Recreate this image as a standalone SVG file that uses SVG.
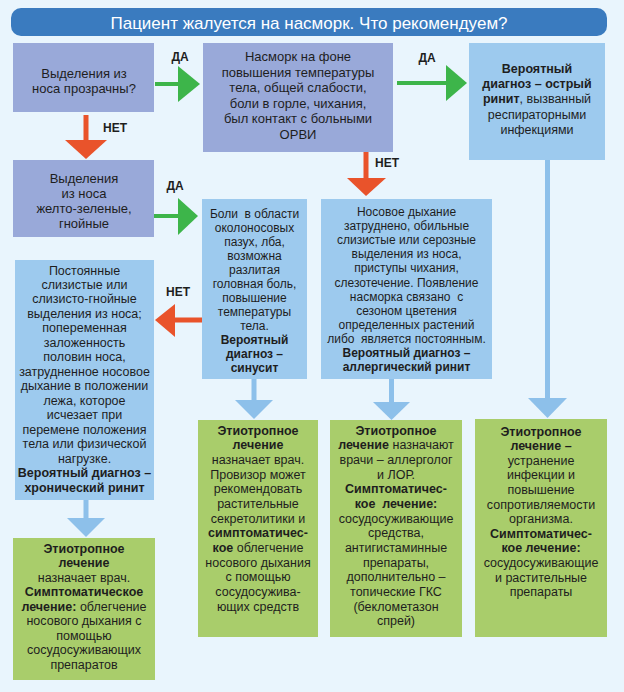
<svg xmlns="http://www.w3.org/2000/svg" width="624" height="692" viewBox="0 0 624 692">
<style>
text{font-family:"Liberation Sans",Arial,sans-serif;fill:#1e1e1e;text-anchor:middle;white-space:pre}
.t13{font-size:13px}.t125{font-size:12.5px}.t12{font-size:12px}
.b{font-weight:bold}
.lbl{font-size:12px;font-weight:bold}
.title{font-size:17px;fill:#ffffff}
.q{fill:#99a9d9}.d{fill:#9dcaee}.g{fill:#a9cd6b}
.ga{fill:#3db54a}.ra{fill:#e9532b}.ba{fill:#8dc0ea}
</style>
<rect x="0" y="0" width="624" height="692" fill="#e9f5fd"/>
<g id="title">
<rect x="11" y="8" width="596" height="28" rx="10" fill="#3a7bbf"/>
<text class="title" x="309" y="29">Пациент жалуется на насморк. Что рекомендуем?</text>
</g>
<g id="connectors">
<rect class="ga" x="155" y="82" width="24" height="4"/><polygon class="ga" points="178,66 200,84 178,102"/>
<rect class="ga" x="397" y="81" width="50" height="4"/><polygon class="ga" points="446,65 467,83 446,101"/>
<rect class="ga" x="154" y="214" width="25" height="4"/><polygon class="ga" points="178,198 198,216 178,235"/>
<rect class="ra" x="83.5" y="115" width="5" height="26"/><polygon class="ra" points="65,140 107,140 86,159"/>
<rect class="ra" x="363.5" y="152" width="5" height="27"/><polygon class="ra" points="347,178 386,178 366,196"/>
<rect class="ra" x="174" y="317.5" width="28" height="5"/><polygon class="ra" points="175,304 155,320 175,337"/>
<rect class="ba" x="251.5" y="379" width="5" height="22"/><polygon class="ba" points="235,400 273,400 254,419"/>
<rect class="ba" x="389" y="379" width="5" height="24"/><polygon class="ba" points="373,402 410,402 391.5,420"/>
<rect class="ba" x="545" y="160" width="5" height="239"/><polygon class="ba" points="528,398 567,398 547.5,418"/>
<rect class="ba" x="83.5" y="500" width="5" height="19"/><polygon class="ba" points="67,518 105,518 86,537"/>
<text class="lbl" x="180" y="60.5">ДА</text>
<text class="lbl" x="427" y="61.5">ДА</text>
<text class="lbl" x="175" y="189.5">ДА</text>
<text class="lbl" x="115" y="131.5">НЕТ</text>
<text class="lbl" x="387" y="166.5">НЕТ</text>
<text class="lbl" x="178" y="295.5">НЕТ</text>
</g>
<g id="q1">
<rect class="q" x="13" y="43" width="141" height="69"/>
<text class="t13" x="84"><tspan x="84" y="77.5">Выделения из</tspan><tspan x="84" y="92.5">носа прозрачны?</tspan></text>
</g>
<g id="q2">
<rect class="q" x="203" y="43" width="190" height="109"/>
<text class="t13"><tspan x="298" y="61">Насморк на фоне</tspan><tspan x="298" y="77">повышения температуры</tspan><tspan x="298" y="92">тела, общей слабости,</tspan><tspan x="298" y="108">боли в горле, чихания,</tspan><tspan x="298" y="123">был контакт с больными</tspan><tspan x="298" y="139">ОРВИ</tspan></text>
</g>
<g id="d-acute">
<rect class="d" x="469" y="43" width="136" height="117"/>
<text class="t125"><tspan x="537" y="72.5" class="b">Вероятный</tspan><tspan x="537" y="87.5" class="b">диагноз – острый</tspan><tspan x="537" y="103"><tspan class="b">ринит</tspan>, вызванный</tspan><tspan x="537" y="118.5">респираторными</tspan><tspan x="537" y="134">инфекциями</tspan></text>
</g>
<g id="q3">
<rect class="q" x="13" y="160" width="141" height="77"/>
<text class="t13"><tspan x="84" y="182.5">Выделения</tspan><tspan x="84" y="197.5">из носа</tspan><tspan x="84" y="212.5">желто-зеленые,</tspan><tspan x="84" y="227.5">гнойные</tspan></text>
</g>
<g id="d-sinus">
<rect class="d" x="202" y="199" width="105" height="180"/>
<text class="t12"><tspan x="254.5" y="218">Боли  в области</tspan><tspan x="254.5" y="232">околоносовых</tspan><tspan x="254.5" y="246">пазух, лба,</tspan><tspan x="254.5" y="260">возможна</tspan><tspan x="254.5" y="274">разлитая</tspan><tspan x="254.5" y="288">головная боль,</tspan><tspan x="254.5" y="302">повышение</tspan><tspan x="254.5" y="316">температуры</tspan><tspan x="254.5" y="330">тела.</tspan><tspan x="254.5" y="344" class="b">Вероятный</tspan><tspan x="254.5" y="358" class="b">диагноз –</tspan><tspan x="254.5" y="372" class="b">синусит</tspan></text>
</g>
<g id="d-allergic">
<rect class="d" x="321" y="199" width="171" height="180"/>
<text class="t12"><tspan x="406.5" y="216">Носовое дыхание</tspan><tspan x="406.5" y="230">затруднено, обильные</tspan><tspan x="406.5" y="244">слизистые или серозные</tspan><tspan x="406.5" y="258">выделения из носа,</tspan><tspan x="406.5" y="272">приступы чихания,</tspan><tspan x="406.5" y="287">слезотечение. Появление</tspan><tspan x="406.5" y="301">насморка связано  с</tspan><tspan x="406.5" y="315">сезоном цветения</tspan><tspan x="406.5" y="329">определенных растений</tspan><tspan x="406.5" y="343">либо  является постоянным.</tspan><tspan x="406.5" y="357" class="b">Вероятный диагноз –</tspan><tspan x="406.5" y="371" class="b">аллергический ринит</tspan></text>
</g>
<g id="d-chronic">
<rect class="d" x="15" y="260" width="139" height="240"/>
<text class="t125"><tspan x="84.5" y="274.5">Постоянные</tspan><tspan x="84.5" y="289">слизистые или</tspan><tspan x="84.5" y="303.4">слизисто-гнойные</tspan><tspan x="84.5" y="317.9">выделения из носа;</tspan><tspan x="84.5" y="332.4">попеременная</tspan><tspan x="84.5" y="346.8">заложенность</tspan><tspan x="84.5" y="361.3">половин носа,</tspan><tspan x="84.5" y="375.8">затрудненное носовое</tspan><tspan x="84.5" y="390.2">дыхание в положении</tspan><tspan x="84.5" y="404.7">лежа, которое</tspan><tspan x="84.5" y="419.2">исчезает при</tspan><tspan x="84.5" y="433.7">перемене положения</tspan><tspan x="84.5" y="448.1">тела или физической</tspan><tspan x="84.5" y="462.6">нагрузке.</tspan><tspan x="84.5" y="477.1" class="b">Вероятный диагноз –</tspan><tspan x="84.5" y="491.5" class="b">хронический ринит</tspan></text>
</g>
<g id="t-chronic">
<rect class="g" x="13" y="538" width="142" height="142"/>
<text class="t125"><tspan x="84" y="552.5" class="b">Этиотропное</tspan><tspan x="84" y="567" class="b">лечение</tspan><tspan x="84" y="581.5">назначает врач.</tspan><tspan x="84" y="596" class="b">Симптоматическое</tspan><tspan x="84" y="610.5"><tspan class="b">лечение:</tspan> облегчение</tspan><tspan x="84" y="625">носового дыхания с</tspan><tspan x="84" y="639.5">помощью</tspan><tspan x="84" y="654">сосудосуживающих</tspan><tspan x="84" y="668.5">препаратов</tspan></text>
</g>
<g id="t-sinus">
<rect class="g" x="198" y="420" width="120" height="217"/>
<text class="t125"><tspan x="258" y="434.5" class="b">Этиотропное</tspan><tspan x="258" y="449.2" class="b">лечение</tspan><tspan x="258" y="463.8">назначает врач.</tspan><tspan x="258" y="478.5">Провизор может</tspan><tspan x="258" y="493.2">рекомендовать</tspan><tspan x="258" y="507.8">растительные</tspan><tspan x="258" y="522.5">секретолитики и</tspan><tspan x="258" y="537.2" class="b">симптоматичес-</tspan><tspan x="258" y="551.9"><tspan class="b">кое</tspan> облегчение</tspan><tspan x="258" y="566.5">носового дыхания</tspan><tspan x="258" y="581.2">с помощью</tspan><tspan x="258" y="595.9">сосудосужива-</tspan><tspan x="258" y="610.5">ющих средств</tspan></text>
</g>
<g id="t-allergic">
<rect class="g" x="330" y="420" width="132" height="217"/>
<text class="t125"><tspan x="396" y="434.5" class="b">Этиотропное</tspan><tspan x="396" y="449.2"><tspan class="b">лечение</tspan> назначают</tspan><tspan x="396" y="463.8">врачи – аллерголог</tspan><tspan x="396" y="478.5">и ЛОР.</tspan><tspan x="396" y="493.2" class="b">Симптоматичес-</tspan><tspan x="396" y="507.8" class="b">кое  лечение:</tspan><tspan x="396" y="522.5">сосудосуживающие</tspan><tspan x="396" y="537.2">средства,</tspan><tspan x="396" y="551.9">антигистаминные</tspan><tspan x="396" y="566.5">препараты,</tspan><tspan x="396" y="581.2">дополнительно –</tspan><tspan x="396" y="595.9">топические ГКС</tspan><tspan x="396" y="610.5">(беклометазон</tspan><tspan x="396" y="625.2">спрей)</tspan></text>
</g>
<g id="t-acute">
<rect class="g" x="475" y="419" width="132" height="218"/>
<text class="t125"><tspan x="541" y="435.5" class="b">Этиотропное</tspan><tspan x="541" y="450.1" class="b">лечение –</tspan><tspan x="541" y="464.7">устранение</tspan><tspan x="541" y="479.3">инфекции и</tspan><tspan x="541" y="493.9">повышение</tspan><tspan x="541" y="508.5">сопротивляемости</tspan><tspan x="541" y="523.1">организма.</tspan><tspan x="541" y="537.7" class="b">Симптоматичес-</tspan><tspan x="541" y="552.3" class="b">кое лечение:</tspan><tspan x="541" y="566.9">сосудосуживающие</tspan><tspan x="541" y="581.5">и растительные</tspan><tspan x="541" y="596.1">препараты</tspan></text>
</g>
</svg>
